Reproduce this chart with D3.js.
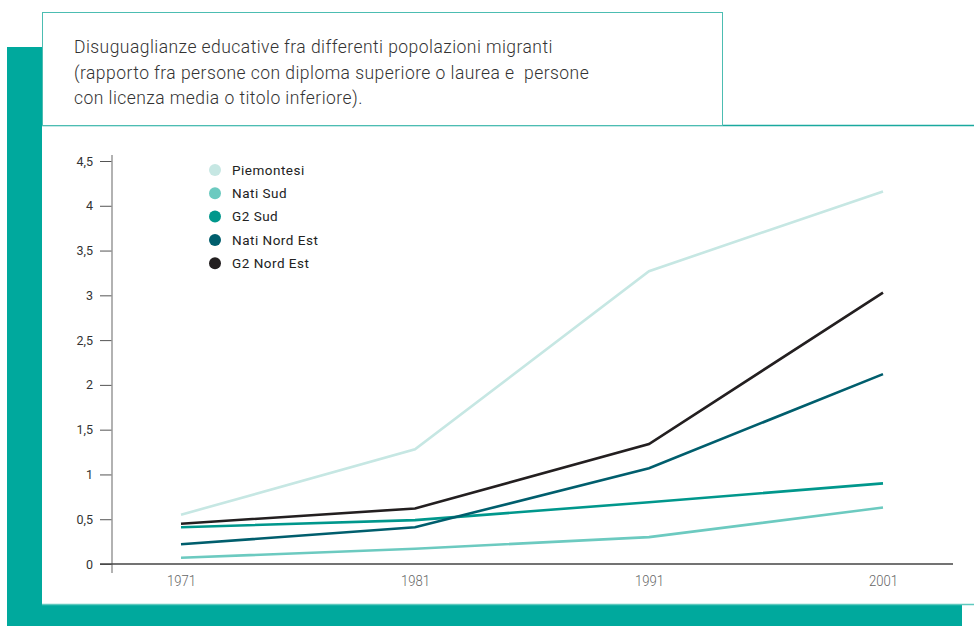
<!DOCTYPE html>
<html><head><meta charset="utf-8">
<script src="https://cdn.jsdelivr.net/npm/d3@7/dist/d3.min.js"></script>
<style>
html,body{margin:0;padding:0;background:#fff;}
svg{display:block;}
</style></head>
<body>
<svg id="chart" width="974" height="626"></svg>
<script>
const years = [1971, 1981, 1991, 2001];
const seriesNames = ["Piemontesi", "Nati Sud", "G2 Sud", "Nati Nord Est", "G2 Nord Est"];
const piemontesi = [0.55, 1.28, 3.27, 4.16];
const natiSud = [0.07, 0.17, 0.30, 0.63];
const g2Sud = [0.41, 0.49, 0.69, 0.90];
const natiNordEst = [0.22, 0.41, 1.07, 2.12];
const g2NordEst = [0.45, 0.62, 1.34, 3.03];
const colors = ["#c6e7e3", "#6ccac0", "#00978c", "#005e6d", "#231f20"];
const yTicks = [0, 0.5, 1, 1.5, 2, 2.5, 3, 3.5, 4, 4.5];
const titleLines = [
  "Disuguaglianze educative fra differenti popolazioni migranti",
  "(rapporto fra persone con diploma superiore o laurea e  persone",
  "con licenza media o titolo inferiore)."
];

const seriesValues = [piemontesi, natiSud, g2Sud, natiNordEst, g2NordEst];
const svg = d3.select("#chart");

// decorative background bands
svg.append("rect").attr("x", 7).attr("y", 47).attr("width", 35).attr("height", 579).attr("fill", "#00a99d");
svg.append("rect").attr("x", 7).attr("y", 604).attr("width", 955).attr("height", 22).attr("fill", "#00a99d");
// chart card borders
svg.append("line").attr("x1", 42).attr("x2", 974).attr("y1", 125.5).attr("y2", 125.5).attr("stroke", "#1aa99e").attr("stroke-width", 1.3);
svg.append("line").attr("x1", 42).attr("x2", 974).attr("y1", 604.5).attr("y2", 604.5).attr("stroke", "#5fc9bf").attr("stroke-width", 1.3);
// title box
svg.append("rect").attr("x", 42.5).attr("y", 12.5).attr("width", 680).attr("height", 113).attr("fill", "#fff").attr("stroke", "#4cbdb2").attr("stroke-width", 1);

const title = svg.append("text")
  .attr("font-family", "Roboto, sans-serif").attr("font-weight", 300)
  .attr("font-size", 17.5).attr("letter-spacing", 0.45).attr("fill", "#333").style("white-space", "pre");
titleLines.forEach((t, i) => {
  title.append("tspan").attr("x", 74).attr("y", 53 + i * 25.5).text(t);
});

// scales
const x = d3.scaleLinear().domain([1971, 2001]).range([181, 883]);
const y = d3.scaleLinear().domain([0, 4.5]).range([564, 161]);

// y axis
const yAxis = svg.append("g").attr("transform", "translate(112,0)")
  .call(d3.axisLeft(y).tickValues(yTicks).tickSize(12).tickPadding(7)
    .tickFormat(d => String(d).replace(".", ",")));
yAxis.select(".domain").remove();
yAxis.selectAll(".tick line").attr("stroke", "#555").attr("stroke-width", 1);
yAxis.selectAll(".tick text").attr("font-family", "Roboto, sans-serif").attr("font-size", 12.5).attr("fill", "#333");
svg.append("line").attr("x1", 112).attr("x2", 112).attr("y1", 155).attr("y2", 573).attr("stroke", "#999").attr("stroke-width", 1.5);

// x axis
const xAxis = svg.append("g").attr("transform", "translate(0,564)")
  .call(d3.axisBottom(x).tickValues(years).tickSize(0).tickPadding(11).tickFormat(d3.format("d")));
xAxis.select(".domain").remove();
xAxis.selectAll(".tick text").attr("font-family", "Roboto, sans-serif").attr("font-weight", 300)
  .attr("font-size", 15).attr("fill", "#666")
  .attr("textLength", 29).attr("lengthAdjust", "spacingAndGlyphs");
svg.append("line").attr("x1", 100).attr("x2", 953).attr("y1", 564).attr("y2", 564).attr("stroke", "#444").attr("stroke-width", 1.5);

// lines
const line = d3.line().x((d, i) => x(years[i])).y(d => y(d));
seriesValues.forEach((vals, k) => {
  svg.append("path").datum(vals).attr("d", line)
    .attr("fill", "none").attr("stroke", colors[k]).attr("stroke-width", 2.6)
    .attr("stroke-linejoin", "miter");
});

// legend
const legend = svg.append("g");
seriesNames.forEach((n, i) => {
  const g = legend.append("g").attr("transform", `translate(215,${170 + i * 23.3})`);
  g.append("circle").attr("r", 6).attr("fill", colors[i]);
  g.append("text").attr("x", 17).attr("y", 4.6).text(n)
    .attr("font-family", "Roboto, sans-serif").attr("font-size", 13.5).attr("font-weight", 400)
    .attr("fill", "#222").attr("letter-spacing", 0.5);
});
</script>
</body></html>
